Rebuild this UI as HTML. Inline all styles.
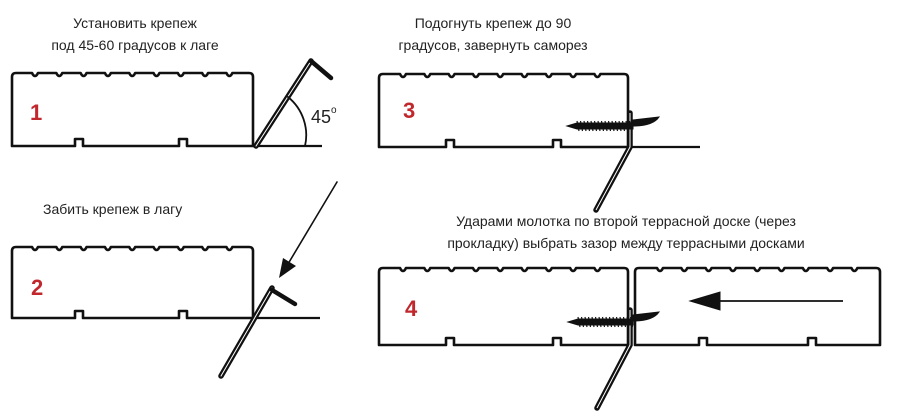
<!DOCTYPE html>
<html><head><meta charset="utf-8"><style>
html,body{margin:0;padding:0;background:#fff;width:900px;height:417px;overflow:hidden}
svg{display:block}
text{font-family:"Liberation Sans",sans-serif;fill:#222}
.n{fill:#c0282d;font-weight:bold;font-size:22px}
.t{font-size:14px}
</style></head><body>
<svg id="s" width="900" height="417" viewBox="0 0 900 417" xmlns="http://www.w3.org/2000/svg">
<g id="boards" fill="none" stroke="#111" stroke-width="2.6" stroke-linejoin="round"></g>

<text class="t" x="135" y="28" text-anchor="middle">Установить крепеж</text>
<text class="t" x="135" y="50" text-anchor="middle">под 45-60 градусов к лаге</text>
<text class="t" x="493" y="28" text-anchor="middle">Подогнуть крепеж до 90</text>
<text class="t" x="493" y="50" text-anchor="middle">градусов, завернуть саморез</text>
<text class="t" x="43" y="214">Забить крепеж в лагу</text>
<text class="t" x="626" y="226" text-anchor="middle">Ударами молотка по второй террасной доске (через</text>
<text class="t" x="626" y="248" text-anchor="middle">прокладку) выбрать зазор между террасными досками</text>

<text class="n" x="30" y="120">1</text>
<text class="n" x="31" y="295">2</text>
<text class="n" x="403" y="118">3</text>
<text class="n" x="405" y="316">4</text>

<g stroke="#111" stroke-width="2.2" fill="none">
<line x1="253" y1="146" x2="322" y2="146"/>
<line x1="253" y1="318" x2="320" y2="318"/>
<line x1="628" y1="147" x2="700" y2="147"/>
</g>

<g stroke="#111" fill="none" stroke-linecap="round">
<line x1="256" y1="146" x2="311" y2="61" stroke-width="5.5"/>
<line x1="256" y1="146" x2="311" y2="61" stroke="#fff" stroke-width="1"/>
<path d="M311,61 L331,78" stroke-width="4.5"/>
<path d="M288,97 A49,49 0 0 1 305,146" stroke-width="1.8"/>
</g>
<text x="311" y="123" style="font-size:18px">45</text>
<text x="331" y="113" style="font-size:10px">o</text>

<g stroke="#111" fill="none" stroke-linecap="round">
<line x1="221" y1="376" x2="272" y2="288" stroke-width="5.5"/>
<line x1="221" y1="376" x2="272" y2="288" stroke="#fff" stroke-width="1"/>
<path d="M272,290 L295,304" stroke-width="4.5"/>
<line x1="337" y1="182" x2="282" y2="274" stroke-width="1.6"/>
</g>
<path d="M279,278 L283,258 L296,266 Z" fill="#111"/>

<g id="extra" stroke="#111" fill="none"></g>
</svg>
<script>
var ns="http://www.w3.org/2000/svg";
function board(x1,x2,y1,y2,tops,bots){
  var d="M"+(x1+4)+","+y1;
  tops.forEach(function(t){d+=" L"+(t-3)+","+y1+" Q"+t+","+(y1+6)+" "+(t+3)+","+y1;});
  d+=" L"+(x2-4)+","+y1+" Q"+x2+","+y1+" "+x2+","+(y1+4)+" L"+x2+","+y2;
  bots.slice().reverse().forEach(function(b){d+=" L"+(b+4)+","+y2+" L"+(b+4)+","+(y2-7)+" L"+(b-4)+","+(y2-7)+" L"+(b-4)+","+y2;});
  d+=" L"+x1+","+y2+" L"+x1+","+(y1+4)+" Q"+x1+","+y1+" "+(x1+4)+","+y1+" Z";
  var p=document.createElementNS(ns,"path");p.setAttribute("d",d);
  document.getElementById("boards").appendChild(p);
}
function tops(x,n){var a=[];for(var i=0;i<n;i++)a.push(x+i*24.3);return a;}
board(12,253,73,146,tops(35,9),[79,183]);
board(12,253,247,318,tops(35,9),[79,183]);
board(379,628,74,147,tops(403,9),[450,557]);
board(379,628,268,345,tops(403,9),[450,557]);
board(635,880,268,345,tops(660,9),[703,812]);
var ex=document.getElementById("extra");
function add(tag,attrs){var e=document.createElementNS(ns,tag);for(var k in attrs)e.setAttribute(k,attrs[k]);ex.appendChild(e);return e;}
function screw(x1,x2,y){
  add("path",{d:"M"+x1+","+y+" L"+(x1+10)+","+(y-3)+" L"+x2+","+(y-3)+" L"+x2+","+(y+3)+" L"+(x1+10)+","+(y+3)+" Z",fill:"#111",stroke:"#111","stroke-width":"1"});
  for(var x=x1+10;x<x2;x+=3.5){add("line",{x1:x,y1:y-5,x2:x+2,y2:y+5,stroke:"#111","stroke-width":"1.2"});}
}
function clip(x,ytop,ybot,dx,dy,tabY){
  add("path",{d:"M"+(x-3)+","+ytop+" L"+(x-3)+","+ybot+" L"+dx+","+dy,"stroke-width":"5.5","stroke-linecap":"round"});
  add("path",{d:"M"+(x-3)+","+ytop+" L"+(x-3)+","+ybot+" L"+dx+","+dy,"stroke-width":"1",stroke:"#fff"});
  add("path",{d:"M"+x+","+tabY+" L"+(x+26)+","+(tabY-3)+" Q"+(x+20)+","+(tabY+6)+" "+x+","+(tabY+6)+" Z",fill:"#111","stroke-width":"1"});
}
clip(633,113,147,596,210,120);
screw(567,633,126);
clip(633,310,345,597,408,315);
screw(568,633,322);
add("line",{x1:843,y1:301,x2:715,y2:301,"stroke-width":"1.8"});
add("path",{d:"M690,301 L720,292 L720,310 Z",fill:"#111","stroke-width":"1"});
</script>
</body></html>
